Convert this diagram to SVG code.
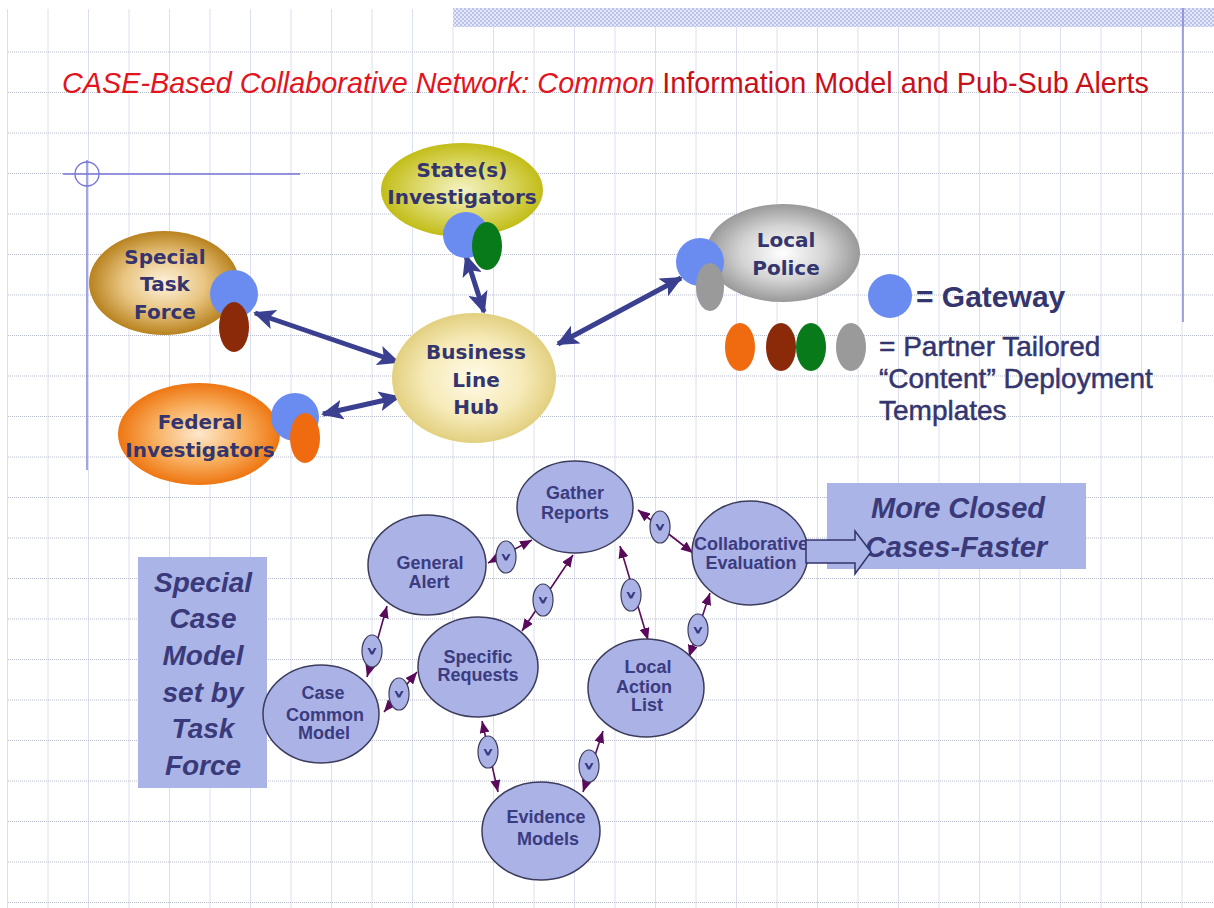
<svg xmlns="http://www.w3.org/2000/svg" width="1214" height="908" viewBox="0 0 1214 908">
<style>
.vgrid{stroke:#dcdff0;stroke-width:1;fill:none}
.hgrid{stroke:#b9bccc;stroke-width:1;stroke-dasharray:1 1;fill:none}
.guide{stroke:#7474d6;stroke-width:1.3;fill:none}
.title{font-family:"Liberation Sans",Arial,sans-serif;font-size:28.8px}
.tn{font-family:"DejaVu Sans",Verdana,sans-serif;font-weight:bold;font-size:20px;fill:#35356e;text-anchor:middle}
.gw{fill:#6a8cf0}
.big{stroke:#3a3f8f;stroke-width:5;fill:none;marker-start:url(#bh);marker-end:url(#bh)}
.leg{font-family:"Liberation Sans",Arial,sans-serif;fill:#35356e}
.cn{fill:#aab2e6;stroke:#3c3c5c;stroke-width:1.5}
.ct{font-family:"Liberation Sans",Arial,sans-serif;font-weight:bold;font-size:18px;fill:#3b3b80;text-anchor:middle}
.sl{stroke:#5a0a5a;stroke-width:1.6;fill:none;marker-start:url(#sh);marker-end:url(#sh)}
.se{fill:#aab2e6;stroke:#3c3c5c;stroke-width:1.2}
.sv{fill:#3b3b80}
.box{fill:#aab4e6}
.bt{font-family:"Liberation Sans",Arial,sans-serif;font-weight:bold;font-style:italic;fill:#3a3a7a;text-anchor:middle}
</style>
<defs>
<pattern id="hatch" width="4" height="4" patternUnits="userSpaceOnUse">
<rect width="4" height="4" fill="#e4e8f8"/>
<rect width="2" height="2" fill="#b9c3ec"/>
<rect x="2" y="2" width="2" height="2" fill="#b9c3ec"/>
</pattern>
<radialGradient id="gStf" cx="50%" cy="50%" r="50%">
<stop offset="0" stop-color="#fdf3de"/><stop offset="0.55" stop-color="#e8c480"/><stop offset="1" stop-color="#b8821e"/>
</radialGradient>
<radialGradient id="gState" cx="50%" cy="50%" r="50%">
<stop offset="0" stop-color="#f4f2c4"/><stop offset="0.55" stop-color="#dcd868"/><stop offset="1" stop-color="#c2bd18"/>
</radialGradient>
<radialGradient id="gHub" cx="50%" cy="50%" r="50%">
<stop offset="0" stop-color="#fffbe8"/><stop offset="0.6" stop-color="#f6eab8"/><stop offset="1" stop-color="#e2d080"/>
</radialGradient>
<radialGradient id="gFed" cx="50%" cy="50%" r="50%">
<stop offset="0" stop-color="#fde8cc"/><stop offset="0.55" stop-color="#f8b060"/><stop offset="1" stop-color="#ee7612"/>
</radialGradient>
<radialGradient id="gPol" cx="50%" cy="50%" r="50%">
<stop offset="0" stop-color="#ffffff"/><stop offset="0.55" stop-color="#d4d4d4"/><stop offset="1" stop-color="#999999"/>
</radialGradient>
<marker id="bh" viewBox="0 0 22 20" refX="20" refY="10" markerWidth="22" markerHeight="20" markerUnits="userSpaceOnUse" orient="auto-start-reverse">
<path d="M0,0 L22,10 L0,20 L5,10 Z" fill="#3a3f8f"/>
</marker>
<marker id="sh" viewBox="0 0 12 10" refX="12" refY="5" markerWidth="12" markerHeight="10" markerUnits="userSpaceOnUse" orient="auto-start-reverse">
<path d="M0,0 L12,5 L0,10 Z" fill="#5a0a5a"/>
</marker>
<path id="vmark" d="M-4.5,-3 L-2.2,-3 L0,0.8 L2.2,-3 L4.5,-3 L1.2,3.5 L-1.2,3.5 Z"/>
</defs>

<rect width="1214" height="908" fill="#ffffff"/>

<g id="background">
<path class="vgrid" d="M7.5,9V908M48,9V908M88.5,9V908M129,9V908M169.5,9V908M210,9V908M250.5,9V908M291,9V908M331.5,9V908M372,9V908M412.5,9V908M453,27V908M493.5,27V908M534,27V908M574.5,27V908M615,27V908M655.5,27V908M696,27V908M736.5,27V908M777,27V908M817.5,27V908M858,27V908M898.5,27V908M939,27V908M979.5,27V908M1020,27V908M1060.5,27V908M1101,27V908M1141.5,27V908M1182,27V908"/>
<path class="hgrid" d="M8,52H1214M8,92.5H1214M8,133H1214M8,173.5H1214M8,214H1214M8,254.5H1214M8,295H1214M8,335.5H1214M8,376H1214M8,416.5H1214M8,457H1214M8,497.5H1214M8,538H1214M8,578.5H1214M8,619H1214M8,659.5H1214M8,700H1214M8,740.5H1214M8,781H1214M8,821.5H1214M8,862H1214M8,902.5H1214"/>
<rect x="453" y="8" width="761" height="19" fill="url(#hatch)"/>
<line class="guide" x1="1183" y1="8" x2="1183" y2="322"/>
<line class="guide" x1="63" y1="174" x2="300" y2="174"/>
<line class="guide" x1="87" y1="160" x2="87" y2="470"/>
<circle class="guide" cx="87" cy="174" r="12" stroke-width="1"/>
</g>

<text class="title" x="62" y="93"><tspan font-style="italic" fill="#e2141e">CASE-Based Collaborative Network: Common</tspan><tspan fill="#c8101a"> Information Model and Pub-Sub Alerts</tspan></text>

<g id="connectors">
<line class="big" x1="466" y1="256" x2="484" y2="312"/>
<line class="big" x1="255" y1="313" x2="398" y2="362"/>
<line class="big" x1="323" y1="414" x2="399" y2="397"/>
<line class="big" x1="681" y1="278" x2="558" y2="344"/>

<line class="sl" x1="367" y1="677" x2="387" y2="606"/>
<ellipse class="se" cx="372" cy="651" rx="10" ry="16"/><use href="#vmark" class="sv" x="372" y="651"/>
<line class="sl" x1="384" y1="712" x2="417" y2="672"/>
<ellipse class="se" cx="399" cy="694" rx="10" ry="16"/><use href="#vmark" class="sv" x="399" y="694"/>
<line class="sl" x1="488" y1="563" x2="532" y2="540"/>
<ellipse class="se" cx="506" cy="557" rx="10" ry="16"/><use href="#vmark" class="sv" x="506" y="557"/>
<line class="sl" x1="522" y1="631" x2="573" y2="555"/>
<ellipse class="se" cx="543" cy="600" rx="10" ry="16"/><use href="#vmark" class="sv" x="543" y="600"/>
<line class="sl" x1="638" y1="510" x2="693" y2="553"/>
<ellipse class="se" cx="660" cy="527" rx="10" ry="16"/><use href="#vmark" class="sv" x="660" y="527"/>
<line class="sl" x1="620" y1="546" x2="648" y2="640"/>
<ellipse class="se" cx="631" cy="595" rx="10" ry="16"/><use href="#vmark" class="sv" x="631" y="595"/>
<line class="sl" x1="689" y1="657" x2="710" y2="593"/>
<ellipse class="se" cx="698" cy="630" rx="10" ry="16"/><use href="#vmark" class="sv" x="698" y="630"/>
<line class="sl" x1="482" y1="721" x2="498" y2="792"/>
<ellipse class="se" cx="488" cy="752" rx="10" ry="16"/><use href="#vmark" class="sv" x="488" y="752"/>
<line class="sl" x1="583" y1="792" x2="603" y2="731"/>
<ellipse class="se" cx="589" cy="766" rx="10" ry="16"/><use href="#vmark" class="sv" x="589" y="766"/>
</g>

<g id="state">
<ellipse cx="462" cy="190" rx="81" ry="47" fill="url(#gState)"/>
<text class="tn" x="462" y="177">State(s)</text>
<text class="tn" x="462" y="204">Investigators</text>
<circle class="gw" cx="466" cy="235" r="23"/>
<ellipse cx="487" cy="246" rx="15" ry="24" fill="#087a1a"/>
</g>

<g id="special-task-force">
<ellipse cx="164" cy="283" rx="75" ry="52" fill="url(#gStf)"/>
<text class="tn" x="165" y="264">Special</text>
<text class="tn" x="165" y="291">Task</text>
<text class="tn" x="165" y="319">Force</text>
<circle class="gw" cx="234" cy="294" r="24"/>
<ellipse cx="234" cy="327" rx="15" ry="25" fill="#8a2a08"/>
</g>

<g id="hub">
<ellipse cx="474" cy="378" rx="82" ry="65" fill="url(#gHub)"/>
<text class="tn" x="476" y="359" font-size="21">Business</text>
<text class="tn" x="476" y="387" font-size="21">Line</text>
<text class="tn" x="476" y="414" font-size="21">Hub</text>
</g>

<g id="federal">
<ellipse cx="199" cy="434" rx="81" ry="51" fill="url(#gFed)"/>
<text class="tn" x="200" y="429">Federal</text>
<text class="tn" x="200" y="457">Investigators</text>
<circle class="gw" cx="295" cy="417" r="24"/>
<ellipse cx="305" cy="438" rx="15" ry="25" fill="#f06a10"/>
</g>

<g id="local-police">
<ellipse cx="783" cy="253" rx="77" ry="49" fill="url(#gPol)"/>
<text class="tn" x="786" y="247">Local</text>
<text class="tn" x="786" y="275">Police</text>
<circle class="gw" cx="700" cy="262" r="24"/>
<ellipse cx="710" cy="287" rx="14" ry="24" fill="#9a9a9a"/>
</g>

<g id="legend">
<circle class="gw" cx="890" cy="296" r="22"/>
<text class="leg" x="916" y="307" font-size="30" font-weight="bold">= Gateway</text>
<ellipse cx="740" cy="347" rx="15" ry="24" fill="#f06a10"/>
<ellipse cx="781" cy="347" rx="15" ry="24" fill="#8a2a08"/>
<ellipse cx="811" cy="347" rx="15" ry="24" fill="#087a1a"/>
<ellipse cx="851" cy="347" rx="15" ry="24" fill="#9a9a9a"/>
<text class="leg" x="879" y="356" font-size="28" stroke="#35356e" stroke-width="0.5">= Partner Tailored</text>
<text class="leg" x="879" y="388" font-size="28" stroke="#35356e" stroke-width="0.5">“Content” Deployment</text>
<text class="leg" x="879" y="420" font-size="28" stroke="#35356e" stroke-width="0.5">Templates</text>
</g>

<g id="special-case-box">
<rect class="box" x="138" y="557" width="129" height="231"/>
<text class="bt" x="203" y="592" font-size="28">Special</text>
<text class="bt" x="203" y="628" font-size="28">Case</text>
<text class="bt" x="203" y="665" font-size="28">Model</text>
<text class="bt" x="203" y="702" font-size="28">set by</text>
<text class="bt" x="203" y="738" font-size="28">Task</text>
<text class="bt" x="203" y="775" font-size="28">Force</text>
</g>

<g id="gather-reports">
<ellipse class="cn" cx="575" cy="507" rx="58" ry="46"/>
<text class="ct" x="575" y="499">Gather</text>
<text class="ct" x="575" y="519">Reports</text>
</g>
<g id="general-alert">
<ellipse class="cn" cx="427" cy="565" rx="59" ry="50"/>
<text class="ct" x="430" y="569">General</text>
<text class="ct" x="429" y="588">Alert</text>
</g>
<g id="collaborative-evaluation">
<ellipse class="cn" cx="750" cy="553" rx="58" ry="52"/>
<text class="ct" x="751" y="550">Collaborative</text>
<text class="ct" x="751" y="569">Evaluation</text>
</g>
<g id="specific-requests">
<ellipse class="cn" cx="478" cy="667" rx="60" ry="50"/>
<text class="ct" x="478" y="663">Specific</text>
<text class="ct" x="478" y="681">Requests</text>
</g>
<g id="case-common-model">
<ellipse class="cn" cx="321" cy="714" rx="58" ry="49"/>
<text class="ct" x="323" y="699">Case</text>
<text class="ct" x="325" y="721">Common</text>
<text class="ct" x="324" y="739">Model</text>
</g>
<g id="local-action-list">
<ellipse class="cn" cx="646" cy="688" rx="58" ry="49"/>
<text class="ct" x="648" y="673">Local</text>
<text class="ct" x="644" y="693">Action</text>
<text class="ct" x="647" y="711">List</text>
</g>
<g id="evidence-models">
<ellipse class="cn" cx="541" cy="831" rx="59" ry="49"/>
<text class="ct" x="546" y="823">Evidence</text>
<text class="ct" x="548" y="845">Models</text>
</g>

<g id="more-closed-box">
<rect class="box" x="827" y="483" width="259" height="86"/>
<text class="bt" x="958" y="518" font-size="29">More Closed</text>
<text class="bt" x="956" y="557" font-size="29">Cases-Faster</text>
</g>
<polygon id="block-arrow" points="806,540 855,540 855,531 871,552 855,574 855,563 806,563" fill="#aab4e6" stroke="#33336b" stroke-width="1.5"/>
</svg>
